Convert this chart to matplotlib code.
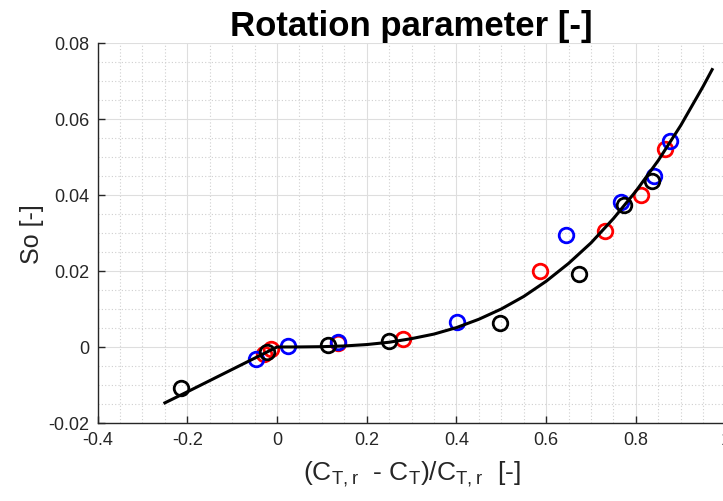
import numpy as np
import matplotlib.pyplot as plt
from matplotlib.ticker import MultipleLocator

plt.rcParams['font.family'] = ['Liberation Sans', 'DejaVu Sans']
plt.rcParams['mathtext.fontset'] = 'custom'
plt.rcParams['mathtext.rm'] = 'Liberation Sans'

red_x = [-0.030, -0.013, 0.137, 0.281, 0.586, 0.731, 0.812, 0.865]
red_y = [-0.0018, -0.0006, 0.0010, 0.0022, 0.0200, 0.0305, 0.0399, 0.0521]

blue_x = [-0.047, 0.024, 0.137, 0.402, 0.645, 0.766, 0.840, 0.877]
blue_y = [-0.0031, 0.0002, 0.0012, 0.0067, 0.0295, 0.0381, 0.0449, 0.0542]

black_x = [-0.213, -0.023, 0.113, 0.250, 0.498, 0.674, 0.773, 0.837]
black_y = [-0.0108, -0.0012, 0.0005, 0.0016, 0.0062, 0.0191, 0.0374, 0.0437]

# fitted curve, sampled along the drawn line
fit_x = [-0.25, -0.20, -0.10, 0.0, 0.05, 0.10, 0.15, 0.20, 0.25, 0.30, 0.35, 0.40,
         0.45, 0.50, 0.55, 0.60, 0.65, 0.70, 0.75, 0.80, 0.85, 0.90, 0.95, 0.97]
fit_y = [-0.0147, -0.0118, -0.0059, 0.0, 0.00001, 0.00008, 0.00027, 0.00064,
         0.00125, 0.0022, 0.0034, 0.0051, 0.0073, 0.0100, 0.0133, 0.0173,
         0.0220, 0.0274, 0.0338, 0.0410, 0.0491, 0.0583, 0.0686, 0.0730]

fig = plt.figure(figsize=(7.23, 5.02), dpi=100)
ax = fig.add_axes([0.135, 0.1554, 0.8686, 0.757])

mk = dict(linestyle='none', marker='o', markersize=10.5, markeredgewidth=2.0,
          markerfacecolor='none')
ax.plot(red_x, red_y, markeredgecolor='#ff0000', **mk)
ax.plot(blue_x, blue_y, markeredgecolor='#0000ff', **mk)
ax.plot(black_x, black_y, markeredgecolor='black', **mk)
ax.plot(fit_x, fit_y, color='black', linewidth=2.2, solid_joinstyle='round')

ax.set_xlim(-0.4, 1.0)
ax.set_ylim(-0.02, 0.08)
ax.xaxis.set_major_locator(MultipleLocator(0.2))
ax.xaxis.set_minor_locator(MultipleLocator(0.05))
ax.yaxis.set_major_locator(MultipleLocator(0.02))
ax.yaxis.set_minor_locator(MultipleLocator(0.005))
ax.set_xticklabels([f'{v:g}' for v in ax.get_xticks()])
ax.set_yticklabels([f'{v:g}' for v in ax.get_yticks()])

ax.grid(which='major', color='#dedede', linewidth=0.8)
ax.grid(which='minor', color='#cfcfcf', linewidth=0.8, linestyle=(0, (1, 2)))
ax.set_axisbelow(True)

for s in ['top', 'right']:
    ax.spines[s].set_visible(False)
for s in ['left', 'bottom']:
    ax.spines[s].set_color('#262626')
    ax.spines[s].set_linewidth(1.0)
ax.tick_params(which='major', direction='in', length=5, width=1,
               color='#262626', labelsize=13, labelcolor='#262626', pad=6)
ax.tick_params(which='minor', length=0)

ax.set_title('Rotation parameter [-]', fontsize=25, fontweight='bold', pad=6)
ax.set_xlabel(r'(C$_{\mathregular{T,r}}$  - C$_{\mathregular{T}}$)/C$_{\mathregular{T,r}}$  [-]',
              fontsize=19, color='#262626', labelpad=7)
ax.set_ylabel('So [-]', fontsize=18, color='#262626', labelpad=3)

fig.savefig('out.png', dpi=100)
